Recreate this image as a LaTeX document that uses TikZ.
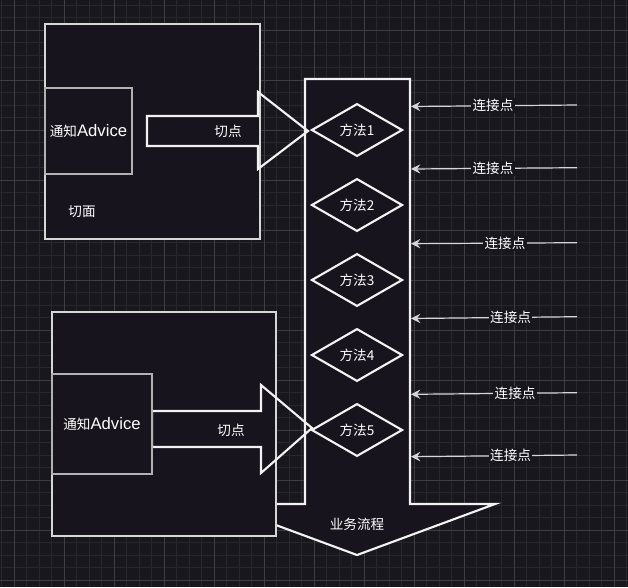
\documentclass[tikz,border=0pt]{standalone}
\usepackage{fontspec}
\setmainfont{Noto Sans CJK SC}
\newfontfamily\latinfont{Liberation Sans}
\newcommand{\advicetext}{通知{\latinfont\fontsize{12.5}{14}\selectfont Advice}}
\usetikzlibrary{arrows.meta,shapes.geometric}
\definecolor{bgdark}{RGB}{25,23,30}
\definecolor{gridminor}{RGB}{40,39,45}
\definecolor{gridmajor}{RGB}{62,61,67}
\definecolor{boxfill}{RGB}{24,20,30}
\definecolor{edgelight}{RGB}{214,214,214}
\definecolor{edgegray}{RGB}{178,178,178}
\definecolor{edgewhite}{RGB}{242,242,242}
\tikzset{
	caption/.style={text=white, font=\fontsize{10.2}{12}\selectfont, inner sep=1pt},
	aspectbox/.style={draw=edgelight, fill=boxfill, line width=1.1pt},
	advicebox/.style={draw=edgegray, fill=boxfill, line width=1.3pt, caption},
	blockarrow/.style={draw=edgewhite, line width=1.6pt, line join=miter},
	methodnode/.style={diamond, draw=edgewhite, fill=boxfill, line width=1.6pt, caption,
		minimum width=68.25pt, minimum height=38.25pt},
	linkline/.style={draw=edgelight, line width=0.9pt,
		-{Stealth[length=7pt, width=7pt, inset=2.5pt]}},
	linklabel/.style={caption, fill=bgdark}
}
\begin{document}
\begin{tikzpicture}[x=0.75pt, y=-0.75pt]
			%%%%% START %%%%%
			\useasboundingbox (0,0) rectangle (628,587);
			\fill[bgdark] (0,0) rectangle (628,587);
			
			% grid
			\foreach \i in {0,...,50}
				\draw[gridminor, line width=0.75pt] ({1.8+12.5*\i},0) -- ++(0,587);
			\foreach \i in {0,...,46}
				\draw[gridminor, line width=0.75pt] (0,{5+12.5*\i}) -- ++(628,0);
			\foreach \i in {0,...,12}
				\draw[gridmajor, line width=0.75pt] ({14.3+50*\i},0) -- ++(0,587);
			\foreach \i in {0,...,11}
				\draw[gridmajor, line width=0.75pt] (0,{30+50*\i}) -- ++(628,0);
			
			% business flow
			\draw[draw=edgewhite, fill=boxfill, line width=1.6pt, line join=miter]
				(305,79) -- (410,79) -- (410,504) -- (495,504) -- (357,555)
				-- (219,504) -- (305,504) -- cycle;
			\node[caption] (flow) at (357,524) {业务流程};
			
			% aspects
			\draw[aspectbox] (45,24) rectangle (260,239);
			\node[caption] (aspect1) at (82,212) {切面};
			\draw[aspectbox] (52,312) rectangle (276,536);
			
			% pointcuts
			\draw[blockarrow] (147,116) -- (258,116) -- (258,92) -- (308,131)
				-- (258,169) -- (258,146) -- (147,146) -- cycle;
			\node[caption] (cut1) at (228,131) {切点};
			\draw[blockarrow] (152,411) -- (261,411) -- (261,385) -- (312,428)
				-- (261,473) -- (261,447) -- (152,447) -- cycle;
			\node[caption] (cut2) at (231,430) {切点};
			
			% advices
			\node[advicebox, minimum width=65.25pt, minimum height=64.5pt] (advice1) at (88.5,131) {\advicetext};
			\node[advicebox, minimum width=75pt, minimum height=75pt] (advice2) at (102,424) {\advicetext};
			
			% methods
			\foreach \i in {1,...,5}
				\node[methodnode] (m\i) at (357,{130+75*(\i-1)}) {方法\i};
			
			% join points
			\foreach \i/\ya/\yb/\p in {1/105/106.5/0.506, 2/167.7/169/0.506, 3/242.7/243.7/0.434,
					4/316.7/318.5/0.40, 5/392.7/394.3/0.373, 6/455/456.7/0.40} {
				\coordinate (src\i) at (577,\ya);
				\coordinate (dst\i) at (411,\yb);
				\draw[linkline] (src\i) -- node[linklabel, pos=\p] (join\i) {连接点} (dst\i);
			}
			%%%%% END %%%%%
\end{tikzpicture}
\end{document}
